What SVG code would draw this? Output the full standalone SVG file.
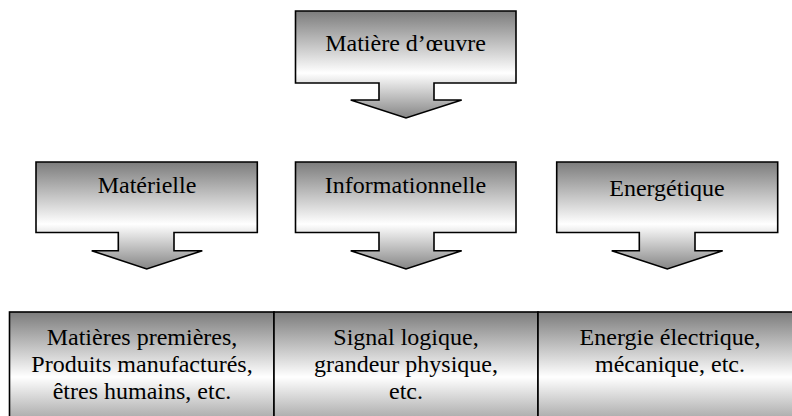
<svg xmlns="http://www.w3.org/2000/svg" width="792" height="416" viewBox="0 0 792 416">
  <defs>
    <linearGradient id="gCallout" x1="0" y1="0" x2="0" y2="1">
      <stop offset="0" stop-color="#7c7c7c"/>
      <stop offset="0.58" stop-color="#ffffff"/>
      <stop offset="1" stop-color="#858585"/>
    </linearGradient>
    <linearGradient id="gTable" x1="0" y1="0" x2="0" y2="1">
      <stop offset="0" stop-color="#7c7c7c"/>
      <stop offset="0.5" stop-color="#ffffff"/>
      <stop offset="1" stop-color="#7c7c7c"/>
    </linearGradient>
  </defs>
  <style>
    .shape { fill: url(#gCallout); stroke: #000; stroke-width: 1.6; stroke-linejoin: miter; }
    .cell { fill: url(#gTable); stroke: #000; stroke-width: 1.6; }
    .lbl { font-family: 'Liberation Serif', 'Times New Roman', serif; font-size: 24px; fill: #000; text-anchor: middle; }
  </style>
  <rect width="792" height="416" fill="#ffffff"/>

  <g id="matiere-oeuvre">
    <path class="shape" d="M295.5,11 H516 V83 H434 V100 H461.7 L406,118 L350.7,100 H379 V83 H295.5 Z"/>
    <text class="lbl" x="405.5" y="51">Matière d’œuvre</text>
  </g>

  <g id="materielle">
    <path class="shape" d="M36,162 H257.3 V232.5 H174 V250.7 H202.3 L146.7,269 L91.7,250.7 H118.3 V232.5 H36 Z"/>
    <text class="lbl" x="147" y="193">Matérielle</text>
  </g>

  <g id="informationnelle">
    <path class="shape" d="M295.5,162 H516 V232.5 H434 V250.7 H461.7 L406,269 L350.7,250.7 H379 V232.5 H295.5 Z"/>
    <text class="lbl" x="405.5" y="193">Informationnelle</text>
  </g>

  <g id="energetique">
    <path class="shape" d="M556.7,162 H777.7 V232.5 H695 V250.7 H722.7 L667.3,269 L611.7,250.7 H639.3 V232.5 H556.7 Z"/>
    <text class="lbl" x="667" y="196">Energétique</text>
  </g>

  <g id="connectors"></g>

  <g id="table">
    <g id="cell-materielle">
      <rect class="cell" x="9.5" y="312" width="264.5" height="130"/>
      <text class="lbl" x="142" y="345">Matières premières,</text>
      <text class="lbl" x="142" y="372">Produits manufacturés,</text>
      <text class="lbl" x="142" y="399">êtres humains, etc.</text>
    </g>
    <g id="cell-informationnelle">
      <rect class="cell" x="274" y="312" width="264" height="130"/>
      <text class="lbl" x="406" y="345">Signal logique,</text>
      <text class="lbl" x="406" y="372">grandeur physique,</text>
      <text class="lbl" x="406" y="399">etc.</text>
    </g>
    <g id="cell-energetique">
      <rect class="cell" x="538" y="312" width="264" height="130"/>
      <text class="lbl" x="670" y="345">Energie électrique,</text>
      <text class="lbl" x="670" y="372">mécanique, etc.</text>
    </g>
  </g>
</svg>
